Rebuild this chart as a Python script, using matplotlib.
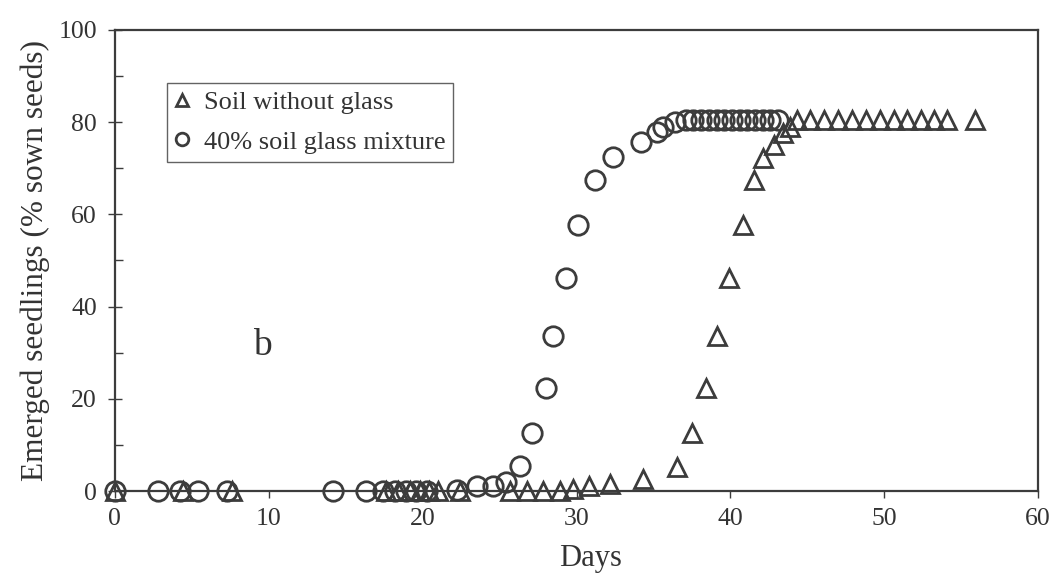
import matplotlib.pyplot as plt
from matplotlib.ticker import MultipleLocator

plt.rcParams['font.family'] = ['Liberation Serif', 'DejaVu Serif']

# 40% soil glass mixture (circles)
glass_days = [0, 2.8, 4.2, 5.4, 7.3, 14.2, 16.3, 17.4, 18.2, 18.9, 19.6, 20.3,
              22.2, 23.5, 24.6, 25.4, 26.3, 27.1, 28.0, 28.5, 29.3, 30.1, 31.2,
              32.4, 34.2, 35.2, 35.6, 36.4, 37.1, 37.6, 38.1, 38.6, 39.1, 39.6,
              40.1, 40.6, 41.1, 41.6, 42.1, 42.6, 43.1]
glass_pct = [0, 0, 0, 0, 0, 0, 0, 0, 0, 0, 0, 0,
             0.3, 1.2, 1.0, 2.0, 5.4, 12.6, 22.3, 33.6, 46.2, 57.7, 67.5,
             72.5, 75.7, 77.9, 79.0, 80.0, 80.5, 80.5, 80.5, 80.5, 80.5, 80.5,
             80.5, 80.5, 80.5, 80.5, 80.5, 80.5, 80.5]

# Soil without glass (triangles)
soil_days = [0, 4.4, 7.6, 17.6, 18.4, 19.2, 19.8, 20.4, 21.0, 22.4,
             25.7, 26.8, 27.8, 28.9, 29.8, 30.8, 32.2, 34.3, 36.5, 37.5,
             38.4, 39.1, 39.9, 40.8, 41.5, 42.1, 42.8, 43.4, 43.9,
             44.3, 45.2, 46.1, 47.0, 47.9, 48.8, 49.7, 50.6, 51.5, 52.4,
             53.2, 54.1, 55.9]
soil_pct = [0, 0, 0, 0, 0, 0, 0, 0, 0, 0,
            0, 0, 0, 0, 0.5, 1.2, 1.6, 2.6, 5.2, 12.6,
            22.3, 33.6, 46.2, 57.7, 67.5, 72.2, 75.0, 77.7, 79.0,
            80.5, 80.5, 80.5, 80.5, 80.5, 80.5, 80.5, 80.5, 80.5, 80.5,
            80.5, 80.5, 80.5]

ink = '#3c3c3c'
txt = '#333333'

fig = plt.figure(figsize=(10.54, 5.86), dpi=100)
ax = fig.add_axes([0.109, 0.162, 0.876, 0.787])

ax.plot(soil_days, soil_pct, linestyle='none', marker='^', markersize=13,
        markerfacecolor='none', markeredgecolor=ink, markeredgewidth=2,
        clip_on=False, label='Soil without glass')
ax.plot(glass_days, glass_pct, linestyle='none', marker='o', markersize=14,
        markerfacecolor='none', markeredgecolor=ink, markeredgewidth=2,
        clip_on=False, label='40% soil glass mixture')

ax.set_xlim(0, 60)
ax.set_ylim(0, 100)
ax.xaxis.set_major_locator(MultipleLocator(10))
ax.yaxis.set_major_locator(MultipleLocator(20))
ax.yaxis.set_minor_locator(MultipleLocator(10))

for sp in ax.spines.values():
    sp.set_color(ink)
    sp.set_linewidth(1.6)

ax.tick_params(axis='x', direction='out', length=5, width=1, colors=ink,
               labelsize=18.5, pad=7, labelcolor=txt)
ax.tick_params(axis='y', which='major', direction='inout', length=10, width=1,
               colors=ink, labelsize=18.5, pad=8, labelcolor=txt)
ax.tick_params(axis='y', which='minor', direction='in', length=6, width=1,
               colors=ink)

ax.set_xlabel('Days', fontsize=22, color=txt)
ax.xaxis.set_label_coords(0.515, -0.115)
ax.set_ylabel('Emerged seedlings (% sown seeds)', fontsize=22.5, color=txt)
ax.yaxis.set_label_coords(-0.07, 0.5)

ax.text(9.6, 31.5, 'b', fontsize=27, color=txt, ha='center', va='center')

leg = ax.legend(loc='upper left', bbox_to_anchor=(0.056, 0.885), fontsize=19,
                frameon=True, fancybox=False, markerscale=0.65,
                handlelength=0.6, handletextpad=0.5, borderpad=0.3,
                labelspacing=0.6, borderaxespad=0)
leg.get_frame().set_edgecolor(ink)
leg.get_frame().set_linewidth(1)
for t in leg.get_texts():
    t.set_color(txt)

fig.savefig('out.png', dpi=100)
